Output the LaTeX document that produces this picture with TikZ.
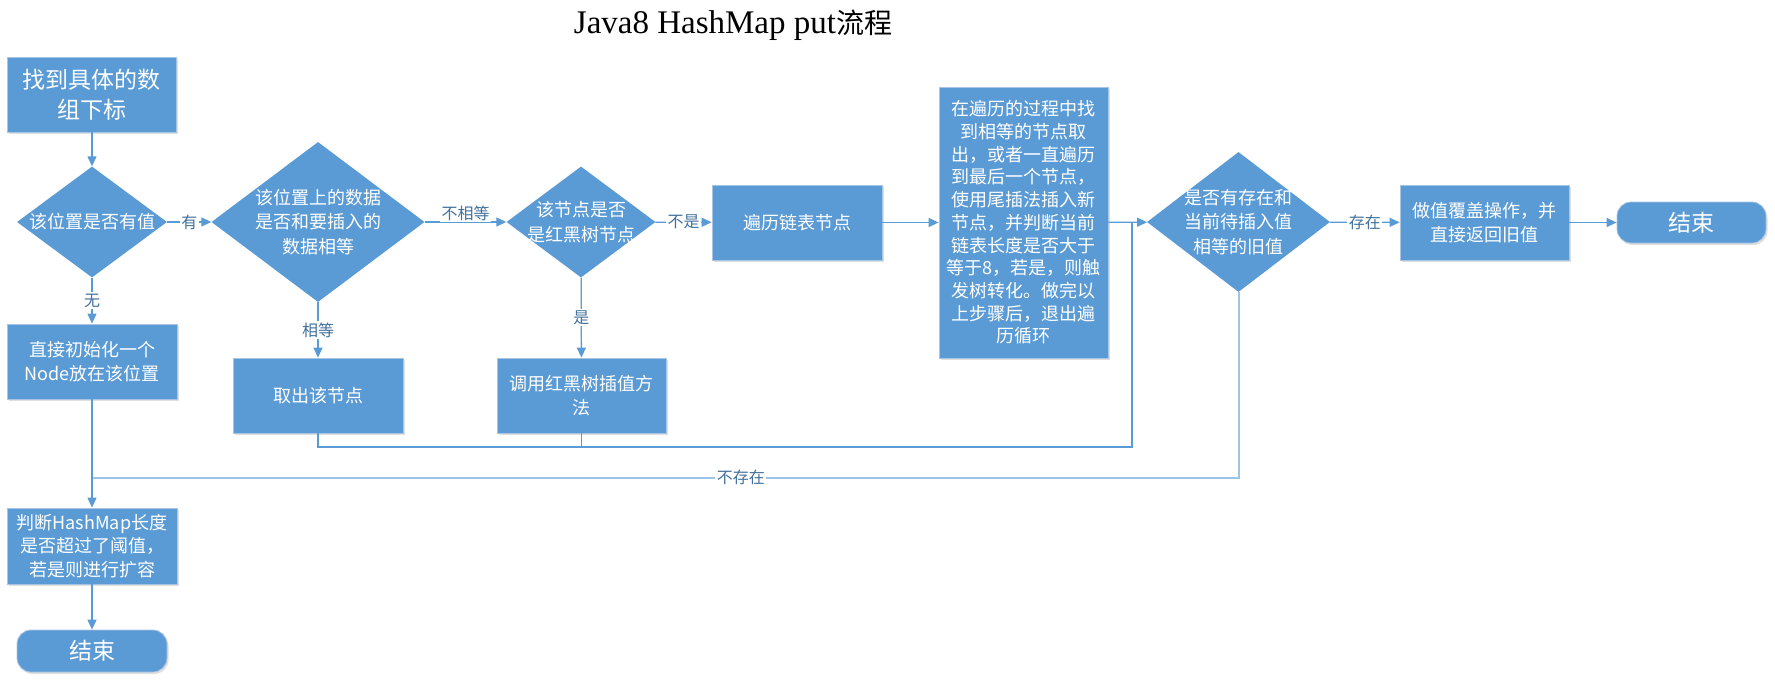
\documentclass[tikz,border=0pt]{standalone}
\usepackage{fontspec}
\setmainfont{Liberation Serif}
\newfontfamily\cjk{Noto Sans CJK SC}
\usetikzlibrary{shapes.geometric,arrows.meta,shadows}
\definecolor{boxblue}{HTML}{5B9BD5}
\definecolor{boxedge}{HTML}{A9C4E4}
\definecolor{lightline}{HTML}{9DC3E6}
\definecolor{lblblue}{HTML}{41719C}
\tikzset{
  procbox/.style={rectangle, fill=boxblue, draw=boxedge, line width=0.8pt,
    text=white, align=center, inner sep=0pt,
    font=\cjk\fontsize{18}{23.5}\selectfont,
    drop shadow={shadow xshift=1.5pt, shadow yshift=-2pt, opacity=0.25, fill=gray}},
  endbox/.style={procbox, rounded corners=14pt, font=\cjk\fontsize{23}{26}\selectfont},
  dia/.style={diamond, fill=boxblue, inner sep=0pt},
  diatext/.style={text=white, align=center, inner sep=0pt, font=\cjk\fontsize{18}{24.5}\selectfont},
  conn/.style={draw=boxblue, line width=1.3pt, -{Triangle[length=10pt,width=9pt]}},
  plainline/.style={draw=boxblue, line width=1.3pt},
  lightconn/.style={draw=lightline, line width=2pt},
  lbl/.style={fill=white, text=lblblue, inner sep=1.5pt, font=\cjk\fontsize{16}{16}\selectfont},
}
\begin{document}
\begin{tikzpicture}[x=1pt,y=-1pt]
\useasboundingbox (0,0) rectangle (1775,680);
% title
\node[anchor=base, inner sep=0pt, font=\fontsize{33}{33}\selectfont] (title) at (733,34)
  {Java8 HashMap put{\cjk\fontsize{28}{28}\selectfont 流程}};

% nodes
\node[procbox, minimum width=169pt, minimum height=75pt, font=\cjk\fontsize{23}{30}\selectfont] (n1) at (92,94.5) {找到具体的数\\组下标};
\node[dia, minimum width=150pt, minimum height=111pt] (d1) at (92,222) {};
\node[diatext] (d1t) at (d1) {该位置是否有值};
\node[dia, minimum width=213pt, minimum height=160pt] (d2) at (318,222) {};
\node[diatext] (d2t) at (d2) {该位置上的数据\\是否和要插入的\\数据相等};
\node[dia, minimum width=149pt, minimum height=111pt] (d3) at (581,222) {};
\node[diatext] (d3t) at (d3) {该节点是否\\是红黑树节点};
\node[procbox, minimum width=170pt, minimum height=75pt] (blist) at (797,222.5) {遍历链表节点};
\node[procbox, minimum width=169pt, minimum height=271pt, font=\cjk\fontsize{18}{22.7}\selectfont] (bbig) at (1023.5,222.5)
  {在遍历的过程中找\\到相等的节点取\\出，或者一直遍历\\到最后一个节点，\\使用尾插法插入新\\节点，并判断当前\\链表长度是否大于\\等于8，若是，则触\\发树转化。做完以\\上步骤后，退出遍\\历循环};
\node[dia, minimum width=183pt, minimum height=140pt] (d4) at (1238.5,222) {};
\node[diatext] (d4t) at (d4) {是否有存在和\\当前待插入值\\相等的旧值};
\node[procbox, minimum width=169pt, minimum height=75pt] (bcover) at (1484.5,222.5) {做值覆盖操作，并\\直接返回旧值};
\node[endbox, minimum width=149pt, minimum height=41pt] (end1) at (1691.5,222.5) {结束};
\node[procbox, minimum width=170pt, minimum height=75pt] (binit) at (92,361.5) {直接初始化一个\\Node放在该位置};
\node[procbox, minimum width=170pt, minimum height=75pt] (btake) at (318,395.5) {取出该节点};
\node[procbox, minimum width=169pt, minimum height=75pt] (brb) at (581.5,395.5) {调用红黑树插值方\\法};
\node[procbox, minimum width=170pt, minimum height=76pt] (bresize) at (92,546) {判断HashMap长度\\是否超过了阈值，\\若是则进行扩容};
\node[endbox, minimum width=150pt, minimum height=42pt] (end2) at (92,651) {结束};

\coordinate (jb) at (1132,447);
\coordinate (jt) at (1132,222);
\coordinate (jl) at (92,477.5);

% connectors
\draw[conn] (n1) -- (d1);
\draw[conn] (d1) -- node[lbl]{有} (d2);
\draw[conn] (d1) -- node[lbl]{无} (binit);
\draw[conn] (d2) -- node[lbl, yshift=9pt]{不相等} (d3);
\draw[conn] (d2) -- node[lbl]{相等} (btake);
\draw[conn] (d3) -- node[lbl]{不是} (blist);
\draw[conn] (d3) -- node[lbl]{是} (brb);
\draw[conn] (blist) -- (bbig);
\draw[conn] (bbig) -- (d4);
\draw[plainline] (btake.south) |- (jb) -- (jt);
\draw[plainline] (brb.south) -- (brb.south |- jb);
\draw[conn] (d4) -- node[lbl]{存在} (bcover);
\draw[conn] (bcover) -- (end1);
\draw[lightconn] (d4.south) |- node[lbl, pos=0.717]{不存在} (jl);
\draw[conn] (binit) -- (bresize);
\draw[conn] (bresize) -- (end2);
\end{tikzpicture}
\end{document}
